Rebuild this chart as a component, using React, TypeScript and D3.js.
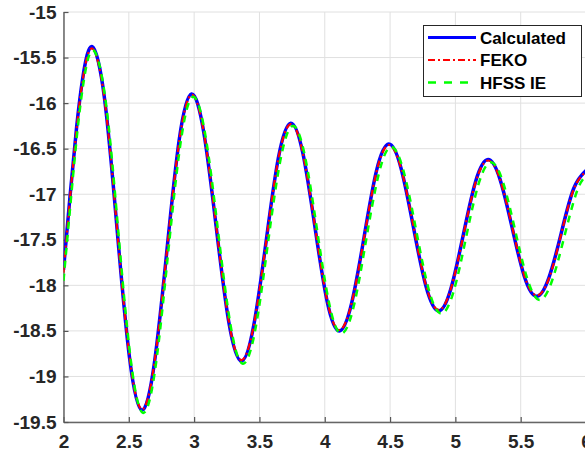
import React, { useEffect, useRef } from 'react';
import * as d3 from 'd3';

// frequency samples (x) and the three curves
const calcX = [2.0, 2.05, 2.1, 2.15, 2.22, 2.315, 2.41, 2.505, 2.6, 2.695, 2.79, 2.885, 2.98, 3.075, 3.17, 3.265, 3.36, 3.455, 3.55, 3.645, 3.74, 3.8325, 3.925, 4.0175, 4.11, 4.205, 4.3, 4.395, 4.49, 4.585, 4.68, 4.775, 4.87, 4.965, 5.06, 5.155, 5.25, 5.3425, 5.435, 5.5275, 5.62, 5.715, 5.81, 5.905, 6.0];
const calcY = [-17.83, -17.02, -16.27, -15.7, -15.38, -15.96, -17.38, -18.79, -19.37, -18.86, -17.64, -16.41, -15.9, -16.33, -17.37, -18.4, -18.83, -18.45, -17.53, -16.6, -16.22, -16.55, -17.36, -18.17, -18.5, -18.2, -17.48, -16.75, -16.45, -16.72, -17.37, -18.01, -18.28, -18.04, -17.45, -16.86, -16.62, -16.84, -17.37, -17.9, -18.12, -17.92, -17.43, -16.94, -16.74];
const fekoY = [-17.86, -17.04, -16.29, -15.72, -15.4, -15.97, -17.38, -18.78, -19.36, -18.86, -17.65, -16.43, -15.91, -16.33, -17.36, -18.39, -18.82, -18.45, -17.54, -16.61, -16.23, -16.55, -17.35, -18.16, -18.49, -18.2, -17.49, -16.76, -16.46, -16.72, -17.36, -18.0, -18.27, -18.04, -17.46, -16.87, -16.63, -16.84, -17.36, -17.89, -18.11, -17.93, -17.44, -16.95, -16.75];
const hfssX = [2.0, 2.057, 2.107, 2.158, 2.228, 2.324, 2.419, 2.515, 2.61, 2.705, 2.8, 2.896, 2.991, 3.087, 3.182, 3.278, 3.373, 3.469, 3.564, 3.66, 3.755, 3.848, 3.941, 4.034, 4.126, 4.222, 4.317, 4.413, 4.508, 4.604, 4.699, 4.795, 4.89, 4.986, 5.081, 5.177, 5.272, 5.365, 5.458, 5.551, 5.645, 5.74, 5.835, 5.93, 6.0];
const hfssY = [-17.95, -17.05, -16.3, -15.73, -15.42, -15.99, -17.4, -18.82, -19.4, -18.89, -17.66, -16.44, -15.93, -16.36, -17.39, -18.43, -18.86, -18.48, -17.55, -16.63, -16.25, -16.58, -17.39, -18.2, -18.53, -18.23, -17.5, -16.78, -16.48, -16.75, -17.39, -18.04, -18.31, -18.07, -17.48, -16.89, -16.65, -16.87, -17.4, -17.93, -18.16, -17.95, -17.46, -16.97, -16.8];

const xTicks = [2, 2.5, 3, 3.5, 4, 4.5, 5, 5.5, 6];
const yTicks = [-15, -15.5, -16, -16.5, -17, -17.5, -18, -18.5, -19, -19.5];
const seriesNames = ['Calculated', 'FEKO', 'HFSS IE'];

const W = 585;
const H = 454;
const FONT = 'Arial, "Liberation Sans", Helvetica, sans-serif';

const App: React.FC = () => {
  const svgRef = useRef<SVGSVGElement | null>(null);

  useEffect(() => {
    if (!svgRef.current) return;
    const svg = d3.select(svgRef.current);
    svg.selectAll('*').remove();

    const left = 63.5, right = 586, top = 12, bottom = 422;
    const x = d3.scaleLinear().domain([2, 6]).range([left, right]);
    const y = d3.scaleLinear().domain([-19.5, -15]).range([bottom, top]);

    svg.append('rect').attr('width', W).attr('height', H).attr('fill', '#fff');

    // grid
    const grid = svg.append('g').attr('stroke', '#e0e0e0').attr('stroke-width', 1);
    xTicks.forEach(t => {
      grid.append('line').attr('x1', x(t)).attr('x2', x(t)).attr('y1', top).attr('y2', bottom);
    });
    yTicks.forEach(t => {
      grid.append('line').attr('x1', left).attr('x2', right).attr('y1', y(t)).attr('y2', y(t));
    });

    // axes (MATLAB-ish: ticks inward, no box)
    const xAxis = d3.axisBottom(x).tickValues(xTicks).tickSizeInner(-5).tickSizeOuter(0).tickPadding(13)
      .tickFormat(d => String(d));
    const yAxis = d3.axisLeft(y).tickValues(yTicks).tickSizeInner(-5).tickSizeOuter(0).tickPadding(7)
      .tickFormat(d => String(d));

    const gx = svg.append('g').attr('transform', `translate(0,${bottom})`).call(xAxis);
    const gy = svg.append('g').attr('transform', `translate(${left},0)`).call(yAxis);
    [gx, gy].forEach(g => {
      g.select('.domain').attr('stroke', '#666').attr('stroke-width', 1.5);
      g.selectAll('.tick line').attr('stroke', '#555').attr('stroke-width', 1.2);
      g.selectAll('.tick text')
        .attr('fill', '#262626')
        .style('font-family', FONT)
        .style('font-weight', 'bold')
        .style('font-size', '19px');
    });

    // curves
    svg.append('clipPath').attr('id', 'plotClip')
      .append('rect').attr('x', left).attr('y', 0).attr('width', right - left).attr('height', H);

    const line = d3.line<[number, number]>()
      .x(d => x(d[0]))
      .y(d => y(d[1]))
      .curve(d3.curveNatural);

    const plot = svg.append('g').attr('clip-path', 'url(#plotClip)').attr('fill', 'none');
    plot.append('path')
      .attr('d', line(calcX.map((v, i) => [v, calcY[i]] as [number, number])))
      .attr('stroke', '#0000ff').attr('stroke-width', 3.5);
    plot.append('path')
      .attr('d', line(calcX.map((v, i) => [v, fekoY[i]] as [number, number])))
      .attr('stroke', '#ff0000').attr('stroke-width', 2.2)
      .attr('stroke-dasharray', '7,3,2,3');
    plot.append('path')
      .attr('d', line(hfssX.map((v, i) => [v, hfssY[i]] as [number, number])))
      .attr('stroke', '#00ff00').attr('stroke-width', 2.5)
      .attr('stroke-dasharray', '7,6');

    // legend
    const lg = svg.append('g');
    lg.append('rect')
      .attr('x', 423.5).attr('y', 25.5).attr('width', 158).attr('height', 71)
      .attr('fill', '#fff').attr('stroke', '#262626').attr('stroke-width', 1);
    const legendStyles = [
      { color: '#0000ff', width: 3, dash: null },
      { color: '#ff0000', width: 2.2, dash: '7,3,2,3' },
      { color: '#00ff00', width: 2.5, dash: '8,8' },
    ];
    seriesNames.forEach((name, i) => {
      const ly = 37.5 + i * 22.5;
      const s = legendStyles[i];
      const l = lg.append('line')
        .attr('x1', 428).attr('x2', 476).attr('y1', ly).attr('y2', ly)
        .attr('stroke', s.color).attr('stroke-width', s.width);
      if (s.dash) l.attr('stroke-dasharray', s.dash);
      lg.append('text')
        .attr('x', 480).attr('y', ly).attr('dy', '0.36em')
        .attr('fill', '#000')
        .style('font-family', FONT)
        .style('font-weight', 'bold')
        .style('font-size', '17px')
        .text(name);
    });
  }, []);

  return (
    <div style={{ position: 'absolute', left: 0, top: 0, width: W, height: H, overflow: 'hidden' }}>
      <svg ref={svgRef} width={W} height={H}></svg>
    </div>
  );
};

export default App;
